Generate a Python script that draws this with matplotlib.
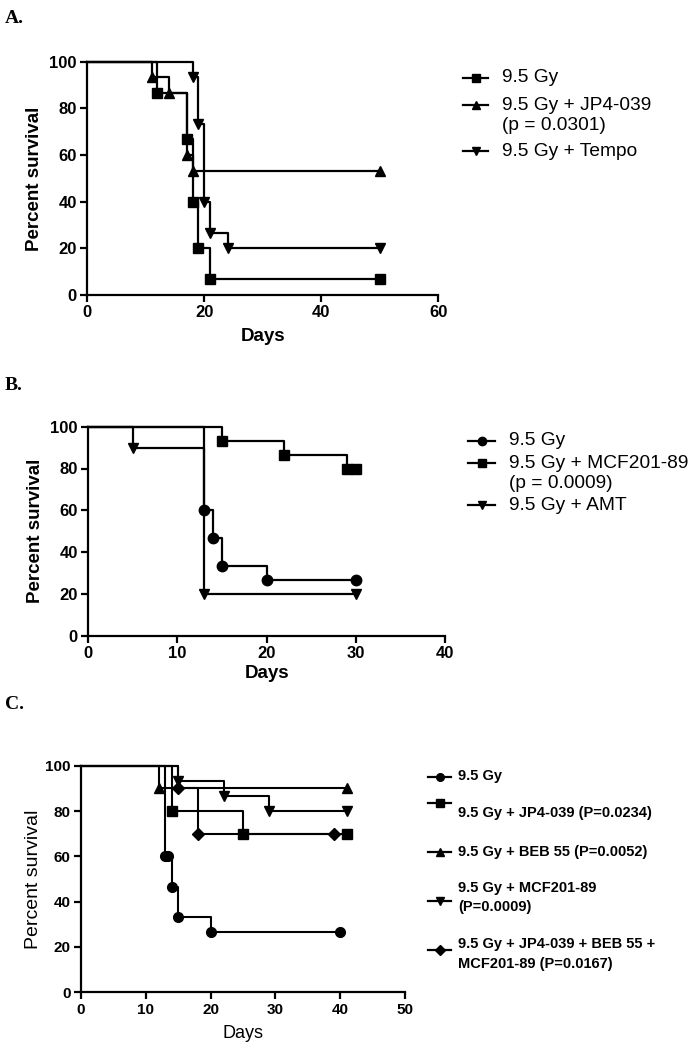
import matplotlib
matplotlib.use("Agg")
import matplotlib.pyplot as plt
from matplotlib.lines import Line2D

plt.rcParams['font.family'] = ['Liberation Sans', 'DejaVu Sans']

W, H = 698, 1050

# Panel A: survival after 9.5 Gy (days, percent survival at each step)
a_days_ctrl = [12, 17, 18, 19, 21, 50]
a_surv_ctrl = [86.67, 66.67, 40, 20, 6.67, 6.67]
a_days_jp4 = [11, 14, 17, 18, 50]
a_surv_jp4 = [93.33, 86.67, 60, 53.33, 53.33]
a_days_tempo = [18, 19, 20, 21, 24, 50]
a_surv_tempo = [93.33, 73.33, 40, 26.67, 20, 20]
a_labels = ["9.5 Gy", "9.5 Gy + JP4-039\n(p = 0.0301)", "9.5 Gy + Tempo"]

# Panel B
b_days_ctrl = [13, 14, 15, 20, 30]
b_surv_ctrl = [60, 46.67, 33.33, 26.67, 26.67]
b_days_mcf = [15, 22, 29, 30]
b_surv_mcf = [93.33, 86.67, 80, 80]
b_days_amt = [5, 13, 30]
b_surv_amt = [90, 20, 20]
b_labels = ["9.5 Gy", "9.5 Gy + MCF201-89\n(p = 0.0009)", "9.5 Gy + AMT"]

# Panel C
c_days_ctrl = [13, 13.5, 14, 15, 20, 40]
c_surv_ctrl = [60, 60, 46.67, 33.33, 26.67, 26.67]
c_days_jp4 = [14, 25, 41]
c_surv_jp4 = [80, 70, 70]
c_days_beb = [12, 41]
c_surv_beb = [90, 90]
c_days_mcf = [15, 22, 29, 41]
c_surv_mcf = [93.33, 86.67, 80, 80]
c_days_combo = [15, 18, 39]
c_surv_combo = [90, 70, 70]
c_labels = ["9.5 Gy", "9.5 Gy + JP4-039 (P=0.0234)", "9.5 Gy + BEB 55 (P=0.0052)",
            "9.5 Gy + MCF201-89\n(P=0.0009)",
            "9.5 Gy + JP4-039 + BEB 55 +\nMCF201-89 (P=0.0167)"]


def fx(px):
    return px / W


def fy(py):
    return 1 - py / H


def make_axes(left, top, right, bottom):
    return fig.add_axes([fx(left), fy(bottom), (right - left) / W, (bottom - top) / H])


def km(ax, days, surv, marker, ms=7.5, lw=1.6):
    ax.step([0] + days, [100] + surv, where='post', color='black', lw=lw,
            clip_on=False, zorder=3)
    ax.plot(days, surv, ls='none', marker=marker, ms=ms, color='black',
            clip_on=False, zorder=4)


def style(ax, xmax, xstep, tick_fs, label_w, ylab_fs, xlab_fs, ylab_x, xlab_y):
    ax.set_xlim(0, xmax)
    ax.set_ylim(0, 100)
    for s in ['top', 'right']:
        ax.spines[s].set_visible(False)
    for s in ['left', 'bottom']:
        ax.spines[s].set_linewidth(1.6)
    ax.set_xticks(range(0, xmax + 1, xstep))
    ax.set_yticks(range(0, 101, 20))
    ax.tick_params(direction='out', length=5, width=1.6, labelsize=tick_fs, pad=2.5)
    for t in ax.get_xticklabels() + ax.get_yticklabels():
        t.set_fontweight('bold')
    ax.set_ylabel("Percent survival", fontsize=ylab_fs, fontweight=label_w)
    ax.set_xlabel("Days", fontsize=xlab_fs, fontweight=label_w)
    ax.yaxis.set_label_coords(ylab_x, 0.5)
    ax.xaxis.set_label_coords(0.5, xlab_y)


def key(x0, x1, y, marker, ms=6):
    fig.add_artist(Line2D([fx(x0), fx(x1)], [fy(y), fy(y)], color='black', lw=1.6))
    fig.add_artist(Line2D([fx((x0 + x1) / 2)], [fy(y)], marker=marker, ms=ms,
                          color='black', ls='none'))


def key_text(x, y, s, fs, weight='normal'):
    fig.text(fx(x), fy(y), s, fontsize=fs, fontweight=weight, va='center', ha='left')


fig = plt.figure(figsize=(W / 100, H / 100), dpi=100)

# ---- Panel A
axA = make_axes(87.3, 61.7, 438.3, 295)
km(axA, a_days_ctrl, a_surv_ctrl, 's')
km(axA, a_days_jp4, a_surv_jp4, '^')
km(axA, a_days_tempo, a_surv_tempo, 'v')
style(axA, 60, 20, 12, 'bold', 13.5, 13.5, (43.5 - 87.3) / 351, -(328 - 295) / 233.3)
fig.text(fx(5), fy(23), "A.", family='Liberation Serif', fontsize=14,
         fontweight='bold', va='baseline')

key(463, 488, 78, 's')
key_text(502, 78, a_labels[0], 13.8)
key(463, 488, 105, '^')
key_text(502, 105, a_labels[1].split("\n")[0], 13.8)
key_text(502, 126, a_labels[1].split("\n")[1], 13.8)
key(463, 488, 151, 'v')
key_text(502, 151, a_labels[2], 13.8)

# ---- Panel B
axB = make_axes(88.3, 426.7, 445, 635.7)
km(axB, b_days_ctrl, b_surv_ctrl, 'o')
km(axB, b_days_mcf, b_surv_mcf, 's')
km(axB, b_days_amt, b_surv_amt, 'v')
style(axB, 40, 10, 12, 'bold', 13.5, 13.5, (43.5 - 88.3) / 356.7, -(664.5 - 635.7) / 209)
fig.text(fx(5), fy(390), "B.", family='Liberation Serif', fontsize=14,
         fontweight='bold', va='baseline')

key(468, 495, 441, 'o')
key_text(509, 441, b_labels[0], 13.8)
key(468, 495, 463, 's')
key_text(509, 463, b_labels[1].split("\n")[0], 13.8)
key_text(509, 483, b_labels[1].split("\n")[1], 13.8)
key(468, 495, 505, 'v')
key_text(509, 505, b_labels[2], 13.8)

# ---- Panel C
axC = make_axes(81, 765.7, 405, 992.3)
km(axC, c_days_ctrl, c_surv_ctrl, 'o', ms=7, lw=1.5)
km(axC, c_days_jp4, c_surv_jp4, 's', ms=7, lw=1.5)
km(axC, c_days_beb, c_surv_beb, '^', ms=7, lw=1.5)
km(axC, c_days_mcf, c_surv_mcf, 'v', ms=7, lw=1.5)
km(axC, c_days_combo, c_surv_combo, 'D', ms=6, lw=1.5)
style(axC, 50, 10, 11, 'normal', 14, 13, (42.5 - 81) / 324, -(1024.6 - 992.3) / 226.6)
fig.text(fx(5), fy(709), "C.", family='Liberation Serif', fontsize=14,
         fontweight='bold', va='baseline')

key(428, 451, 777, 'o', ms=5.5)
key_text(458, 776, c_labels[0], 10.5, 'bold')
key(428, 451, 803, 's', ms=5.5)
key_text(458, 813, c_labels[1], 10.5, 'bold')
key(428, 451, 852, '^', ms=5.5)
key_text(458, 852, c_labels[2], 10.5, 'bold')
key(428, 451, 901, 'v', ms=5.5)
key_text(458, 888, c_labels[3].split("\n")[0], 10.5, 'bold')
key_text(458, 907, c_labels[3].split("\n")[1], 10.5, 'bold')
key(428, 451, 950, 'D', ms=5)
key_text(458, 944, c_labels[4].split("\n")[0], 10.5, 'bold')
key_text(458, 964, c_labels[4].split("\n")[1], 10.5, 'bold')

fig.savefig("out.png", dpi=100)
plt.close(fig)
